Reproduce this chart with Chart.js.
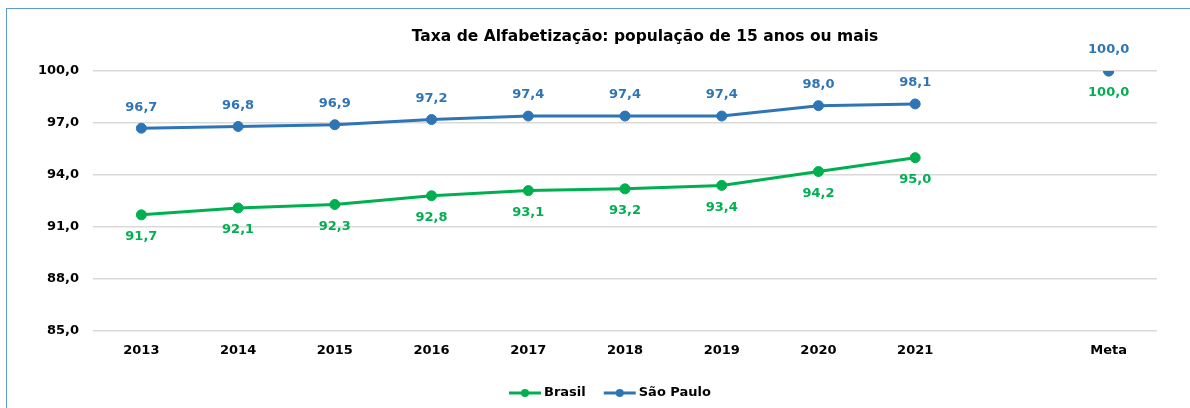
<!DOCTYPE html>
<html>
<head>
<meta charset="utf-8">
<script src="https://cdn.jsdelivr.net/npm/chart.js@4"></script>
<style>
  html, body { margin: 0; padding: 0; background: #fff; }
  #wrap { position: relative; width: 1190px; height: 408px; overflow: hidden; }
  #frame { position: absolute; left: 6px; top: 8px; width: 1200px; height: 420px; border: 1.5px solid #5b9bd5; pointer-events: none; }
</style>
</head>
<body>
<div id="wrap">
  <canvas id="chart" width="1190" height="408"></canvas>
  <div id="frame"></div>
</div>
<script>
const categories = ["2013", "2014", "2015", "2016", "2017", "2018", "2019", "2020", "2021", "", "Meta"];
const brasil = [91.7, 92.1, 92.3, 92.8, 93.1, 93.2, 93.4, 94.2, 95.0, null, 100.0];
const saoPaulo = [96.7, 96.8, 96.9, 97.2, 97.4, 97.4, 97.4, 98.0, 98.1, null, 100.0];
const yTicks = [85, 88, 91, 94, 97, 100];
const titleText = "Taxa de Alfabetização: população de 15 anos ou mais";

const GREEN = "#00b050";
const BLUE = "#2e75b6";
const FONT = "DejaVu Sans";

const fmt = (v) => v.toFixed(1).replace(".", ",");

// value labels, title and legend drawn by hand so they sit where the original has them
const decorations = {
  id: "decorations",
  afterDatasetsDraw(chart) {
    const ctx = chart.ctx;
    const area = chart.chartArea;
    ctx.save();
    ctx.textBaseline = "middle";

    // value labels
    ctx.font = "bold 13px " + FONT;
    ctx.textAlign = "center";
    chart.data.datasets.forEach((ds, i) => {
      const meta = chart.getDatasetMeta(i);
      meta.data.forEach((pt, j) => {
        const v = ds.data[j];
        if (v == null) return;
        ctx.fillStyle = ds.borderColor;
        ctx.fillText(fmt(v), pt.x, pt.y + ds.labelOffset);
      });
    });

    // title
    ctx.fillStyle = "#000";
    ctx.font = "bold 15.5px " + FONT;
    ctx.fillText(titleText, area.left + area.width / 2 + 20, 37);

    // legend
    ctx.font = "bold 13px " + FONT;
    ctx.textAlign = "left";
    let x = 509;
    const y = 393;
    chart.data.datasets.forEach((ds) => {
      ctx.strokeStyle = ds.borderColor;
      ctx.fillStyle = ds.borderColor;
      ctx.lineWidth = 3;
      ctx.beginPath();
      ctx.moveTo(x, y);
      ctx.lineTo(x + 32, y);
      ctx.stroke();
      ctx.beginPath();
      ctx.arc(x + 16, y, 4, 0, Math.PI * 2);
      ctx.fill();
      ctx.fillStyle = "#000";
      ctx.fillText(ds.label, x + 35, y);
      x += 35 + ctx.measureText(ds.label).width + 18;
    });
    ctx.restore();
  },
};

Chart.defaults.font.family = FONT;

new Chart(document.getElementById("chart"), {
  type: "line",
  data: {
    labels: categories,
    datasets: [
      {
        label: "Brasil",
        data: brasil,
        borderColor: GREEN,
        backgroundColor: GREEN,
        borderWidth: 3,
        pointRadius: 5,
        pointBorderWidth: 1,
        pointHoverRadius: 5,
        labelOffset: 22,
        order: 1,
      },
      {
        label: "São Paulo",
        data: saoPaulo,
        borderColor: BLUE,
        backgroundColor: BLUE,
        borderWidth: 3,
        pointRadius: 5,
        pointBorderWidth: 1,
        pointHoverRadius: 5,
        labelOffset: -21,
        order: 0,
      },
    ],
  },
  options: {
    responsive: false,
    animation: false,
    layout: { padding: { left: 0, right: 33, top: 71, bottom: 0 } },
    scales: {
      x: {
        offset: true,
        afterFit(scale) { scale.height = 77; },
        grid: { display: false },
        border: { display: false },
        ticks: { color: "#000", font: { size: 13, weight: "bold" }, padding: 4, maxRotation: 0, autoSkip: false },
      },
      y: {
        min: 85,
        max: 100,
        afterFit(scale) { scale.width = 93; },
        afterBuildTicks(scale) { scale.ticks = yTicks.map((v) => ({ value: v })); },
        grid: { color: "#d9d9d9", lineWidth: 1.5, drawTicks: false },
        border: { display: false },
        ticks: { color: "#000", font: { size: 13, weight: "bold" }, padding: 14, callback: (v) => fmt(v) },
      },
    },
    plugins: {
      title: { display: false },
      legend: { display: false },
      tooltip: { enabled: false },
    },
  },
  plugins: [decorations],
});
</script>
</body>
</html>
